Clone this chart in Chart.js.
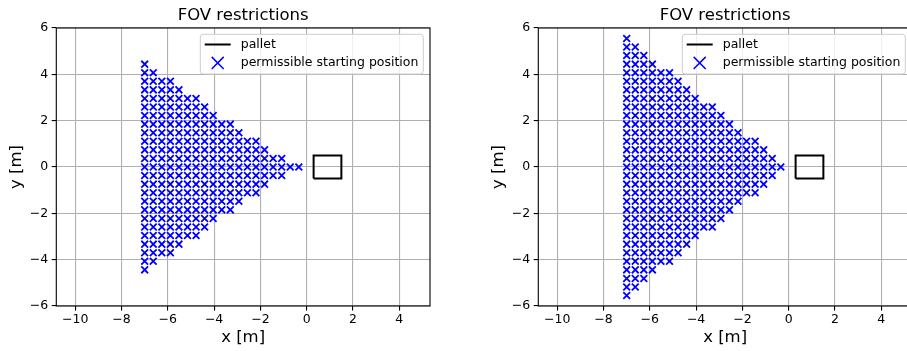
<!DOCTYPE html>
<html>
<head>
<meta charset="utf-8">
<script src="https://cdn.jsdelivr.net/npm/chart.js@4.4.1/dist/chart.umd.min.js"></script>
<style>
  html, body { margin: 0; padding: 0; background: #fff; overflow: hidden; width: 907px; height: 351px; }
  .panel { position: absolute; top: 0; width: 453px; height: 351px; }
  canvas { display: block; }
</style>
</head>
<body>
<div class="panel" style="left:0"><canvas id="fovLeft" width="453" height="351"></canvas></div>
<div class="panel" style="left:482px"><canvas id="fovRight" width="453" height="351"></canvas></div>
<script>
// Axis ticks
const xTicks = [-10, -8, -6, -4, -2, 0, 2, 4];
const yTicks = [-6, -4, -2, 0, 2, 4, 6];

// Sampled x positions of candidate starting points [m]
const gridX = [-7.00, -6.63, -6.26, -5.89, -5.52, -5.15, -4.78, -4.41, -4.04, -3.67,
               -3.30, -2.93, -2.56, -2.19, -1.82, -1.45, -1.08, -0.71, -0.34];

// Left panel: row y positions and how many columns (from x = -7) are permissible
const leftRowY = [4.44, 4.07, 3.70, 3.33, 2.96, 2.59, 2.22, 1.85, 1.48, 1.11, 0.74, 0.37, 0.00,
                  -0.37, -0.74, -1.11, -1.48, -1.85, -2.22, -2.59, -2.96, -3.33, -3.70, -4.07, -4.44];
const leftRowCount = [1, 2, 4, 5, 7, 8, 9, 11, 12, 14, 15, 17, 19,
                      17, 15, 14, 12, 11, 9, 8, 7, 5, 4, 2, 1];

// Right panel: wider field of view
const rightRowY = [5.55, 5.18, 4.81, 4.44, 4.07, 3.70, 3.33, 2.96, 2.59, 2.22, 1.85, 1.48, 1.11, 0.74, 0.37, 0.00,
                   -0.37, -0.74, -1.11, -1.48, -1.85, -2.22, -2.59, -2.96, -3.33, -3.70, -4.07, -4.44, -4.81, -5.18, -5.55];
const rightRowCount = [1, 2, 3, 4, 6, 7, 8, 9, 11, 12, 13, 14, 16, 17, 18, 19,
                       18, 17, 16, 14, 13, 12, 11, 9, 8, 7, 6, 4, 3, 2, 1];

// Pallet outline corners [m]
const palletX = [0.3, 1.5, 1.5, 0.3, 0.3];
const palletY = [-0.5, -0.5, 0.5, 0.5, -0.5];

const FONT = "'DejaVu Sans', 'Liberation Sans', sans-serif";
const fmtTick = v => (v < 0 ? '\u2212' + Math.abs(v) : String(v));

function buildPoints(rowY, rowCount) {
  const pts = [];
  rowY.forEach((y, i) => {
    for (let j = 0; j < rowCount[i]; j++) pts.push({ x: gridX[j], y: y });
  });
  return pts;
}
const palletPoints = palletX.map((x, i) => ({ x: x, y: palletY[i] }));

// Closed box around the plotting area
const framePlugin = {
  id: 'frame',
  afterDatasetsDraw(chart) {
    const { ctx, chartArea: a } = chart;
    ctx.save();
    ctx.strokeStyle = '#000';
    ctx.lineWidth = 1.1;
    ctx.strokeRect(a.left, a.top, a.right - a.left, a.bottom - a.top);
    ctx.restore();
  }
};

// Legend box in the upper right corner of the plotting area
const legendPlugin = {
  id: 'cornerLegend',
  afterDraw(chart) {
    const { ctx, chartArea: a } = chart;
    const ds = chart.data.datasets;
    const right = a.right - 6.7, top = a.top + 6.3, w = 223, h = 39.7;
    const left = right - w;
    ctx.save();
    ctx.beginPath();
    ctx.roundRect(left, top, w, h, 3);
    ctx.fillStyle = 'rgba(255,255,255,0.8)';
    ctx.fill();
    ctx.strokeStyle = '#cccccc';
    ctx.lineWidth = 1;
    ctx.stroke();

    const row1 = top + 10.2, row2 = top + 28.6;
    const hx0 = left + 4.4, hx1 = left + 30.4, hxm = (hx0 + hx1) / 2;
    // line handle
    ctx.beginPath();
    ctx.moveTo(hx0, row1);
    ctx.lineTo(hx1, row1);
    ctx.strokeStyle = ds[0].borderColor;
    ctx.lineWidth = 2;
    ctx.stroke();
    // marker handle
    ctx.strokeStyle = ds[1].borderColor;
    ctx.lineWidth = 1.5;
    Chart.helpers.drawPoint(ctx, { pointStyle: 'crossRot', radius: 8.5, rotation: 0, borderWidth: 1.5 }, hxm, row2);

    ctx.fillStyle = '#000';
    ctx.font = '12.5px ' + FONT;
    ctx.textBaseline = 'middle';
    ctx.textAlign = 'left';
    ctx.fillText(ds[0].label, left + 40.4, row1);
    ctx.fillText(ds[1].label, left + 40.4, row2);
    ctx.restore();
  }
};

function makeChart(id, rowY, rowCount) {
  return new Chart(document.getElementById(id), {
    type: 'scatter',
    data: {
      datasets: [
        {
          label: 'pallet',
          data: palletPoints,
          showLine: true,
          borderColor: '#000',
          borderWidth: 2,
          pointRadius: 0,
          tension: 0,
          fill: false
        },
        {
          label: 'permissible starting position',
          data: buildPoints(rowY, rowCount),
          pointStyle: 'crossRot',
          pointRadius: 4.8,
          pointBorderWidth: 1.8,
          borderColor: '#0000ff',
          backgroundColor: '#0000ff',
          showLine: false
        }
      ]
    },
    options: {
      responsive: false,
      animation: false,
      events: [],
      layout: { padding: { left: 0, top: 0, right: 23, bottom: 0 } },
      plugins: {
        legend: { display: false },
        tooltip: { enabled: false },
        title: {
          display: true,
          text: 'FOV restrictions',
          fullSize: false,
          color: '#000',
          font: { family: FONT, size: 16.5, weight: 'normal' },
          padding: { top: 5.9, bottom: 2.3 }
        }
      },
      scales: {
        x: {
          type: 'linear',
          position: 'bottom',
          min: -10.82,
          max: 5.33,
          bounds: 'data',
          afterBuildTicks: s => { s.ticks = xTicks.map(v => ({ value: v })); },
          afterFit: s => { s.height = 45; },
          border: { display: false },
          grid: { color: '#b0b0b0', lineWidth: 1.1, drawTicks: true, tickLength: 4.6, tickColor: '#000', tickWidth: 1.1 },
          ticks: { color: '#000', font: { family: FONT, size: 12.5 }, padding: 2, maxRotation: 0, autoSkip: false, callback: v => fmtTick(v) },
          title: { display: true, text: 'x [m]', color: '#000', font: { family: FONT, size: 16.5 }, padding: { top: 0, bottom: 3.8 } }
        },
        y: {
          type: 'linear',
          position: 'left',
          min: -6,
          max: 6,
          bounds: 'data',
          afterBuildTicks: s => { s.ticks = yTicks.map(v => ({ value: v })); },
          afterFit: s => { s.width = 56.3; },
          border: { display: false },
          grid: { color: '#b0b0b0', lineWidth: 1.1, drawTicks: true, tickLength: 4.6, tickColor: '#000', tickWidth: 1.1 },
          ticks: { color: '#000', font: { family: FONT, size: 12.5 }, padding: 3.5, autoSkip: false, callback: v => fmtTick(v) },
          title: { display: true, text: 'y [m]', color: '#000', font: { family: FONT, size: 16.5 }, padding: { top: 7.1, bottom: 0 } }
        }
      }
    },
    plugins: [framePlugin, legendPlugin]
  });
}

makeChart('fovLeft', leftRowY, leftRowCount);
makeChart('fovRight', rightRowY, rightRowCount);
</script>
</body>
</html>
